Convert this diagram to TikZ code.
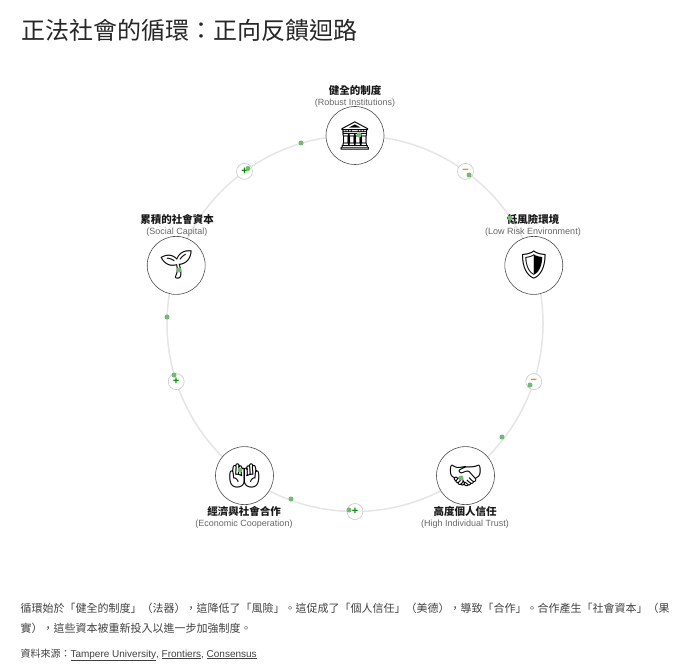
\documentclass[tikz,border=0pt]{standalone}
\usepackage{fontspec}
\setmainfont{Noto Sans CJK TC}
\newfontfamily\emo{Noto Emoji}
\newfontfamily\lat{Liberation Sans}
\begin{document}
\begin{tikzpicture}[x=1pt,y=-1pt,
  stage/.style={circle,draw=black!70,fill=white,line width=0.6pt,minimum size=58pt,inner sep=0pt,font=\emo\fontsize{28}{28}\selectfont},
  sign/.style={circle,draw=black!22,fill=white,line width=0.6pt,minimum size=16pt,inner sep=0pt,font=\lat\fontsize{11}{11}\selectfont\bfseries},
  dot/.style={circle,fill=green!50!black!55,inner sep=0pt,minimum size=5pt},
  ring/.style={black!10,line width=1.5pt},
  ttl/.style={font=\fontsize{10.5}{12}\selectfont\bfseries,text=black!90},
  sub/.style={font=\lat\fontsize{9}{10}\selectfont,text=black!60},
  body/.style={anchor=west,font=\fontsize{11}{12}\selectfont,text=black!75}]
\useasboundingbox (0,0) rectangle (695,668);
\node[anchor=west,font=\fontsize{24}{26}\selectfont,text=black!85] (title) at (18,30) {正法社會的循環：正向反饋迴路};
\coordinate (p1) at (355,135.5);
\coordinate (p2) at (533.8,265.4);
\coordinate (p3) at (465.5,475.6);
\coordinate (p4) at (244.5,475.6);
\coordinate (p5) at (176.2,265.4);
\draw[ring] (p1) arc[start angle=-90,end angle=-18,radius=188];
\draw[ring] (p2) arc[start angle=-18,end angle=54,radius=188];
\draw[ring] (p3) arc[start angle=54,end angle=126,radius=188];
\draw[ring] (p4) arc[start angle=126,end angle=198,radius=188];
\draw[ring] (p5) arc[start angle=198,end angle=270,radius=188];
\node[sign,text=green!55!black] (s1) at (244.5,171.4) {+};
\node[sign,text=orange] (s2) at (465.5,171.4) {−};
\node[sign,text=orange] (s3) at (533.8,381.6) {−};
\node[sign,text=green!55!black] (s4) at (355,511.5) {+};
\node[sign,text=green!55!black] (s5) at (176.2,381.6) {+};
\node[stage] (n1) at (p1) {🏛};
\node[stage] (n2) at (p2) {🛡};
\node[stage] (n3) at (p3) {🤝};
\node[stage] (n4) at (p4) {🤲};
\node[stage] (n5) at (p5) {🌱};
\node[ttl] (t1) at (355,90) {健全的制度};
\node[sub] (u1) at (355,103) {(Robust Institutions)};
\node[ttl] (t2) at (533,219) {低風險環境};
\node[sub] (u2) at (533,232) {(Low Risk Environment)};
\node[ttl] (t5) at (177,219) {累積的社會資本};
\node[sub] (u5) at (177,232) {(Social Capital)};
\node[ttl] (t4) at (244,511) {經濟與社會合作};
\node[sub] (u4) at (244,524) {(Economic Cooperation)};
\node[ttl] (t3) at (465,511) {高度個人信任};
\node[sub] (u3) at (465,524) {(High Individual Trust)};
\node[dot] (d1) at (301,143) {};
\node[dot] (d2) at (248,168.5) {};
\node[dot] (d3) at (469,175) {};
\node[dot] (d4) at (530,385) {};
\node[dot] (d5) at (502,437) {};
\node[dot] (d6) at (291,499) {};
\node[dot] (d7) at (349,510) {};
\node[dot] (d8) at (167,317) {};
\node[dot] (d9) at (174,375) {};
\node[dot] (d10) at (359,135) {};
\node[dot] (d11) at (179,270) {};
\node[dot] (d12) at (240,470) {};
\node[dot] (d13) at (461,478) {};
\node[dot] (d14) at (510,218) {};
\node[body] (b1) at (17,608) {循環始於「健全的制度」（法器），這降低了「風險」。這促成了「個人信任」（美德），導致「合作」。合作產生「社會資本」（果};
\node[body] (b2) at (17,628) {實），這些資本被重新投入以進一步加強制度。};
\node[body,font=\fontsize{10}{11}\selectfont] (src) at (17,655) {資料來源：\lat\underline{Tampere University}, \underline{Frontiers}, \underline{Consensus}};
\end{tikzpicture}
\end{document}
